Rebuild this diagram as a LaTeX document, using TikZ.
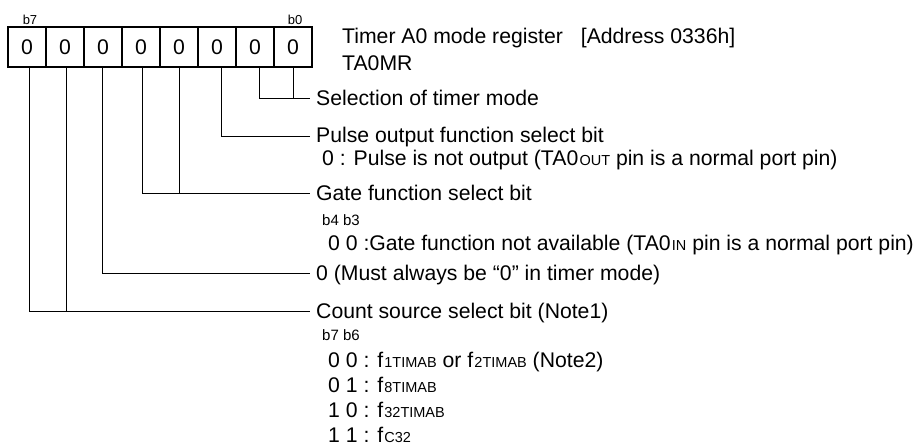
\documentclass[tikz,border=0pt]{standalone}
\usepackage{fontspec}
\setmainfont{Liberation Sans}
\newcommand\smtx[1]{\hspace{1.2pt}{\fontsize{14.5}{16}\selectfont #1}}
\begin{document}
\begin{tikzpicture}[x=1pt,y=-1pt,
 cell/.style={draw,line width=1.5pt,minimum width=38pt,minimum height=40pt,inner sep=0pt,font=\fontsize{21.2}{24}\selectfont},
 lbl/.style={anchor=base west,inner sep=0pt,text depth=0pt,font=\fontsize{21.2}{24}\selectfont},
 sm/.style={anchor=base west,inner sep=0pt,font=\fontsize{15}{17}\selectfont},
 bitlbl/.style={anchor=base,inner sep=0pt,font=\fontsize{13}{15}\selectfont},
 conn/.style={line width=0.8pt}]
\useasboundingbox (0,0) rectangle (922,445);
\foreach \i/\x in {7/27,6/65,5/103,4/141,3/179,2/217,1/255,0/293}
  \node[cell] (c\i) at (\x,47) {0};
\node[bitlbl] (lb7) at (30,24.5) {b7};
\node[bitlbl] (lb0) at (295,24.5) {b0};
% title
\node[lbl] (title) at (342,43.5) {Timer A0 mode register\hspace{18pt}[Address 0336h]};
\node[lbl] (name) at (342,70.5) {TA0MR};
% field texts
\node[lbl] (t0) at (316,105.5) {Selection of timer mode};
\node[lbl] (t1) at (316,142) {Pulse output function select bit};
\node[lbl] (t1a) at (322,165.5) {0 : Pulse is not output (TA0\smtx{OUT} pin is a normal port pin)};
\node[lbl] (t2) at (316,200.5) {Gate function select bit};
\node[sm] (t2h) at (322,225.5) {b4 b3};
\node[lbl] (t2a) at (328,250) {0 0 :Gate function not available (TA0\smtx{IN} pin is a normal port pin)};
\node[lbl] (t3) at (316,280.5) {0 (Must always be “0” in timer mode)};
\node[lbl] (t4) at (316,318.5) {Count source select bit (Note1)};
\node[sm] (t4h) at (322,340.5) {b7 b6};
\node[lbl] (t4a) at (328,367.5) {0 0 : f\smtx{1TIMAB} or f\smtx{2TIMAB} (Note2)};
\node[lbl] (t4b) at (328,392.5) {0 1 : f\smtx{8TIMAB}};
\node[lbl] (t4c) at (328,417.5) {1 0 : f\smtx{32TIMAB}};
\node[lbl] (t4d) at (328,442) {1 1 : f\smtx{C32}};
% connector ends
\coordinate (e0) at (310,98);
\coordinate (e1) at (310,136);
\coordinate (e2) at (310,193);
\coordinate (e3) at (310,273);
\coordinate (e4) at (310,311);
% connectors
\draw[conn] ([xshift=4pt]c1.south) |- (e0);
\draw[conn] (c0.south) -- (c0.south |- e0);
\draw[conn] ([xshift=4pt]c2.south) |- (e1);
\draw[conn] ([xshift=1pt]c4.south) |- (e2);
\draw[conn] (c3.south) -- (c3.south |- e2);
\draw[conn] ([xshift=-1pt]c5.south) |- (e3);
\draw[conn] ([xshift=2pt]c7.south) |- (e4);
\draw[conn] ([xshift=1pt]c6.south) -- ([xshift=1pt]c6.south |- e4);
\end{tikzpicture}
\end{document}
